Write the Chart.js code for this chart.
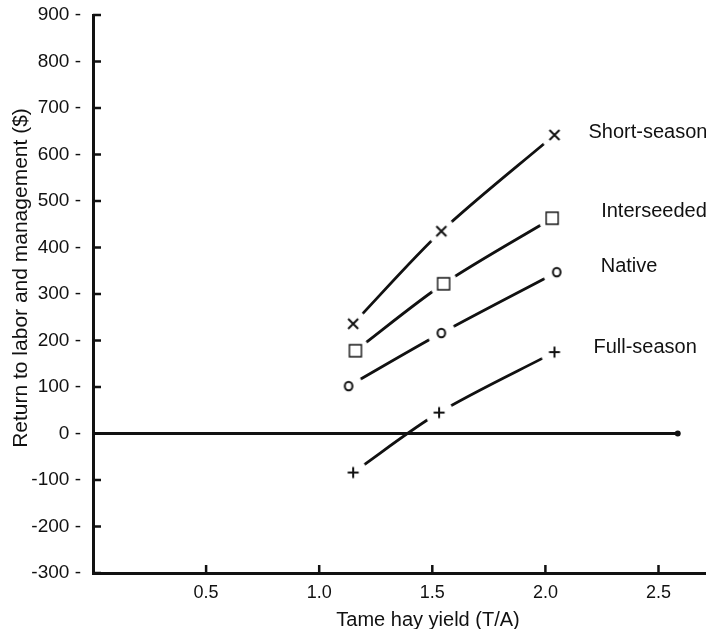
<!DOCTYPE html>
<html lang="en">

<head>
    <meta charset="UTF-8" />
    <title>Return to labor and management</title>
    <script src="https://cdn.jsdelivr.net/npm/chart.js"></script>
    <style>
        body {
            background-color: #ffffff;
            margin: 0;
            padding: 0;
        }

        #chart-container {
            width: 706px;
            height: 629px;
            position: relative;
        }
    </style>
</head>

<body>
    <div id="chart-container">
        <canvas id="returns"></canvas>
    </div>

    <script>
        // values
        const seriesNames = ['Short-season', 'Interseeded', 'Native', 'Full-season'];
        const shortX = [1.15, 1.54, 2.04];
        const shortY = [236, 435, 642];
        const interX = [1.16, 1.55, 2.03];
        const interY = [178, 322, 463];
        const nativeX = [1.13, 1.54, 2.05];
        const nativeY = [102, 216, 347];
        const fullX = [1.15, 1.53, 2.04];
        const fullY = [-84, 45, 175];
        const xTicks = [0.5, 1.0, 1.5, 2.0, 2.5];
        const yTicks = [900, 800, 700, 600, 500, 400, 300, 200, 100, 0, -100, -200, -300];
        const zeroLineEnd = 2.585;

        const ink = '#111111';
        const fontFamily = '"Liberation Sans", Arial, Helvetica, sans-serif';

        // marker glyph on a white disc, so the line stops short of each point
        function makeMarker(kind) {
            const c = document.createElement('canvas');
            c.width = 30;
            c.height = 30;
            const g = c.getContext('2d');
            g.fillStyle = '#ffffff';
            g.beginPath();
            g.arc(15, 15, 14, 0, Math.PI * 2);
            g.fill();
            g.strokeStyle = ink;
            g.lineWidth = 2;
            g.beginPath();
            if (kind === 'x') {
                g.moveTo(10, 10); g.lineTo(20, 20);
                g.moveTo(20, 10); g.lineTo(10, 20);
            } else if (kind === 'plus') {
                g.moveTo(15, 9.5); g.lineTo(15, 20.5);
                g.moveTo(9.5, 15); g.lineTo(20.5, 15);
            } else if (kind === 'square') {
                g.lineWidth = 1.4;
                g.rect(9, 9, 12, 12);
            } else {
                g.ellipse(15, 15, 3.8, 4.2, 0, 0, Math.PI * 2);
            }
            g.stroke();
            return c;
        }

        function toPoints(xs, ys) {
            return xs.map((x, i) => ({ x: x, y: ys[i] }));
        }

        const seriesData = [
            toPoints(shortX, shortY),
            toPoints(interX, interY),
            toPoints(nativeX, nativeY),
            toPoints(fullX, fullY)
        ];
        const markerKinds = ['x', 'square', 'o', 'plus'];
        // label offset from the last point of each series, in pixels
        const labelOffsets = [[34, -2], [49, -7], [44, -6], [39, -5]];

        const datasets = seriesData.map((pts, i) => ({
            label: seriesNames[i],
            data: pts,
            showLine: true,
            borderColor: ink,
            borderWidth: 2.8,
            tension: 0.3,
            pointStyle: makeMarker(markerKinds[i]),
            pointRadius: 6
        }));

        // fixed axis boxes, no extra label padding
        const fitY = function (scale) {
            scale.width = 93;
            scale.paddingTop = 0;
            scale.paddingBottom = 0;
        };
        const fitX = function (scale) {
            scale.height = 56;
            scale.paddingLeft = 0;
            scale.paddingRight = 0;
        };

        const decorations = {
            id: 'decorations',
            afterDatasetsDraw(chart) {
                const ctx = chart.ctx;
                const xs = chart.scales.x;
                const ys = chart.scales.y;
                const left = chart.chartArea.left;
                const bottom = chart.chartArea.bottom;
                ctx.save();
                ctx.strokeStyle = ink;
                ctx.fillStyle = ink;

                // zero line with its end dot
                const y0 = ys.getPixelForValue(0);
                const xEnd = xs.getPixelForValue(zeroLineEnd);
                ctx.lineWidth = 3;
                ctx.beginPath();
                ctx.moveTo(left, y0);
                ctx.lineTo(xEnd, y0);
                ctx.stroke();
                ctx.beginPath();
                ctx.arc(xEnd, y0, 3, 0, Math.PI * 2);
                ctx.fill();

                // inward tick marks
                ctx.lineWidth = 2.5;
                ctx.beginPath();
                for (const v of yTicks) {
                    const py = ys.getPixelForValue(v);
                    ctx.moveTo(left, py);
                    ctx.lineTo(left + 8, py);
                }
                for (const v of xTicks) {
                    const px = xs.getPixelForValue(v);
                    ctx.moveTo(px, bottom);
                    ctx.lineTo(px, bottom - 8);
                }
                ctx.stroke();

                // series names beside the last point
                ctx.font = '20px ' + fontFamily;
                ctx.textAlign = 'left';
                ctx.textBaseline = 'middle';
                chart.data.datasets.forEach((ds, i) => {
                    const last = ds.data[ds.data.length - 1];
                    const px = xs.getPixelForValue(last.x) + labelOffsets[i][0];
                    const py = ys.getPixelForValue(last.y) + labelOffsets[i][1];
                    ctx.fillText(ds.label, px, py);
                });

                // axis titles
                ctx.textAlign = 'center';
                ctx.fillText('Tame hay yield (T/A)', 428, 620);
                ctx.font = '21px ' + fontFamily;
                ctx.translate(21, 278);
                ctx.rotate(-Math.PI / 2);
                ctx.fillText('Return to labor and management ($)', 0, 0);
                ctx.restore();
            }
        };

        new Chart(document.getElementById('returns'), {
            type: 'scatter',
            data: { datasets: datasets },
            options: {
                responsive: true,
                maintainAspectRatio: false,
                animation: false,
                events: [],
                layout: {
                    autoPadding: false,
                    padding: { top: 15, right: 0, left: 0, bottom: 0 }
                },
                plugins: {
                    legend: { display: false },
                    tooltip: { enabled: false }
                },
                scales: {
                    x: {
                        type: 'linear',
                        min: 0,
                        max: 2.71,
                        afterFit: fitX,
                        grid: { display: false, drawTicks: false },
                        border: { display: true, color: ink, width: 3 },
                        ticks: {
                            stepSize: 0.5,
                            includeBounds: false,
                            padding: 9,
                            color: ink,
                            font: { family: fontFamily, size: 18 },
                            callback: (v) => (v === 0 ? '' : v.toFixed(1))
                        }
                    },
                    y: {
                        type: 'linear',
                        min: -300,
                        max: 900,
                        afterFit: fitY,
                        grid: { display: false, drawTicks: false },
                        border: { display: true, color: ink, width: 3 },
                        ticks: {
                            stepSize: 100,
                            padding: 12,
                            color: ink,
                            font: { family: fontFamily, size: 19 },
                            callback: (v) => v + ' -'
                        }
                    }
                }
            },
            plugins: [decorations]
        });
    </script>
</body>

</html>
